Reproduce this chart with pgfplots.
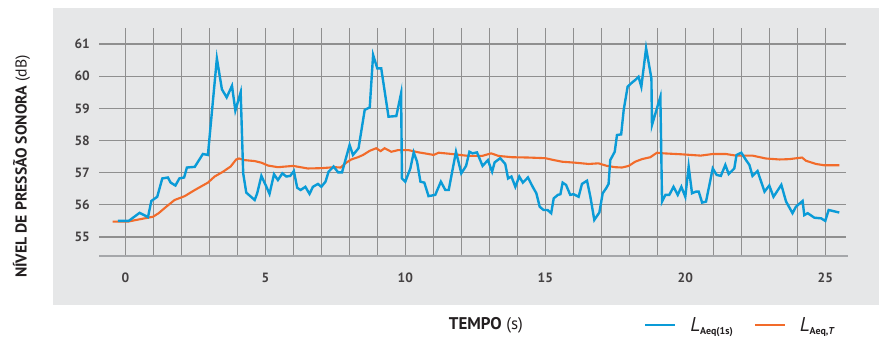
\documentclass[border=0pt]{standalone}
\usepackage{fontspec}
\setmainfont{PT Sans}
\usepackage{pgfplots}
\pgfplotsset{compat=1.18}

\definecolor{panel}{HTML}{E6E7E8}
\definecolor{gridc}{HTML}{8F8F8F}
\definecolor{baseln}{HTML}{A5A7AA}
\definecolor{laeqone}{HTML}{0A9BD7}
\definecolor{laeqT}{HTML}{F26B2A}
\definecolor{txt}{HTML}{231F20}

% L_Aeq(1s): short-interval equivalent level
\pgfplotstableread{
t L
-0.27 55.50
0.12 55.50
0.51 55.75
0.81 55.62
0.93 56.12
1.14 56.25
1.32 56.82
1.52 56.85
1.62 56.69
1.79 56.60
1.93 56.82
2.10 56.85
2.20 57.16
2.48 57.18
2.77 57.58
2.95 57.55
3.27 60.55
3.45 59.59
3.62 59.34
3.81 59.70
3.93 58.93
4.12 59.50
4.21 56.98
4.32 56.38
4.62 56.15
4.71 56.36
4.86 56.90
5.04 56.56
5.15 56.34
5.31 56.95
5.45 56.77
5.61 56.98
5.75 56.88
5.89 56.90
6.02 57.05
6.14 56.53
6.26 56.46
6.43 56.56
6.58 56.34
6.70 56.56
6.88 56.65
7.00 56.56
7.15 56.72
7.26 57.03
7.44 57.19
7.60 57.01
7.74 57.01
7.86 57.39
8.01 57.86
8.13 57.55
8.33 57.76
8.55 58.95
8.73 59.03
8.85 60.66
9.00 60.24
9.14 60.24
9.40 58.74
9.68 58.76
9.85 59.47
9.88 56.82
10.00 56.72
10.18 57.13
10.30 57.63
10.42 57.34
10.54 56.72
10.68 56.69
10.83 56.27
11.07 56.31
11.27 56.72
11.43 56.46
11.55 56.46
11.81 57.65
12.00 56.98
12.17 57.21
12.29 57.65
12.40 57.60
12.56 57.63
12.76 57.21
12.95 57.39
13.10 57.03
13.19 57.32
13.39 57.45
13.57 57.27
13.67 56.82
13.79 56.88
13.93 56.56
14.07 56.88
14.20 56.69
14.38 56.85
14.55 56.56
14.68 56.36
14.80 55.94
14.94 55.84
15.08 55.84
15.21 55.74
15.30 56.20
15.45 56.31
15.54 56.33
15.62 56.69
15.74 56.62
15.89 56.31
16.01 56.33
16.19 56.25
16.31 56.65
16.49 56.75
16.61 56.25
16.75 55.53
16.93 55.76
17.05 56.36
17.17 56.51
17.26 56.65
17.32 57.39
17.48 57.65
17.56 58.17
17.71 58.19
17.80 58.95
17.94 59.67
18.07 59.78
18.21 59.88
18.33 59.98
18.43 59.67
18.60 60.87
18.79 59.93
18.81 58.48
19.11 59.36
19.17 56.10
19.29 56.31
19.43 56.31
19.58 56.56
19.73 56.31
19.86 56.56
20.00 56.25
20.12 57.19
20.24 56.36
20.38 56.41
20.48 56.41
20.60 56.07
20.74 56.10
20.98 57.13
21.12 56.93
21.27 56.90
21.43 57.24
21.55 56.96
21.75 57.13
21.83 57.55
22.00 57.62
22.17 57.39
22.29 57.24
22.40 56.90
22.58 57.05
22.83 56.41
23.00 56.60
23.15 56.25
23.43 56.62
23.60 56.10
23.83 55.74
23.95 55.94
24.19 56.12
24.25 55.68
24.37 55.74
24.61 55.60
24.85 55.58
25.00 55.50
25.12 55.84
25.50 55.76
}\laeqone

% L_Aeq,T: running equivalent level
\pgfplotstableread{
t L
-0.45 55.48
0.10 55.48
0.57 55.56
0.99 55.63
1.19 55.74
1.46 55.94
1.76 56.15
2.12 56.27
2.48 56.46
2.95 56.69
3.19 56.88
3.49 57.03
3.76 57.19
3.96 57.41
4.06 57.44
4.26 57.39
4.62 57.36
4.86 57.31
5.10 57.22
5.45 57.17
5.99 57.21
6.52 57.13
7.00 57.14
7.48 57.17
7.69 57.16
7.89 57.31
8.07 57.41
8.31 57.48
8.49 57.55
8.73 57.68
8.96 57.76
9.12 57.67
9.26 57.76
9.50 57.65
9.74 57.70
10.12 57.70
10.48 57.63
10.83 57.58
11.01 57.55
11.19 57.62
11.67 57.58
12.26 57.52
12.74 57.52
13.07 57.60
13.33 57.52
13.81 57.48
14.40 57.47
15.00 57.45
15.31 57.39
15.60 57.34
16.07 57.31
16.55 57.27
16.90 57.29
17.20 57.21
17.50 57.17
17.74 57.16
17.98 57.21
18.21 57.34
18.45 57.42
18.75 57.48
18.99 57.62
19.23 57.60
19.88 57.57
20.55 57.53
20.98 57.58
21.45 57.58
21.81 57.53
22.40 57.53
22.88 57.44
23.36 57.41
23.71 57.42
24.17 57.47
24.31 57.37
24.67 57.27
24.96 57.23
25.50 57.23
}\laeqT

\begin{document}
\begin{tikzpicture}
\useasboundingbox (0bp,0bp) rectangle (879bp,338bp);
\fill[panel] (53bp,33bp) rectangle (879bp,330bp);
\begin{axis}[
  at={(99bp,81.7bp)}, anchor=south west,
  scale only axis, width=747bp, height=228.4bp,
  xmin=-0.94, xmax=25.74, ymin=54.4, ymax=61.5,
  clip=false,
  axis line style={draw=none},
  major tick length=0pt, minor tick length=0pt,
  xtick={0,5,...,25}, minor xtick={0,...,25},
  ytick={55,...,61},
  xmajorgrids, xminorgrids, ymajorgrids,
  major grid style={gridc, line width=1.1bp},
  minor grid style={gridc, line width=1.1bp},
  /pgf/number format/assume math mode=true,
  tick label style={font=\fontsize{13.5}{15}\selectfont\bfseries, text=txt!85},
  yticklabel style={anchor=east, inner sep=0pt, xshift=-9bp},
  xticklabel style={anchor=north, inner sep=0pt, yshift=-16.5bp},
  xlabel={\textbf{TEMPO} (s)},
  xlabel style={at={(axis description cs:0.518,-0.301)}, anchor=center,
    font=\fontsize{17}{19}\selectfont, text=txt},
  ylabel={\textbf{NÍVEL DE PRESSÃO SONORA} (dB)},
  ylabel style={at={(axis description cs:-0.1037,0.393)}, anchor=center,
    font=\fontsize{15.8}{17}\selectfont, text=txt},
  legend columns=2,
  legend image code/.code={\draw[#1] (0bp,0bp) -- (30bp,0bp);},
  legend style={at={(axis description cs:0.7296,-0.300)}, anchor=west,
    draw=none, fill=none, inner sep=0pt, outer sep=0pt,
    nodes={inner sep=0pt, text=txt},
    /tikz/every odd column/.append style={column sep=14bp},
    /tikz/every even column/.append style={column sep=21bp}},
]
\draw[baseln, line width=2bp] (axis cs:-0.94,54.4) -- (axis cs:25.82,54.4);
\addplot[laeqT, line width=2.1bp, forget plot] table[x=t, y=L] {\laeqT};
\addplot[laeqone, line width=2.4bp] table[x=t, y=L] {\laeqone};
\addlegendentry{{\fontsize{20}{20}\selectfont\itshape L}\raisebox{-3.5bp}{\fontsize{10}{10}\selectfont\bfseries Aeq(1s)}}
\addlegendimage{laeqT, line width=2.1bp}
\addlegendentry{{\fontsize{20}{20}\selectfont\itshape L}\raisebox{-3.5bp}{\fontsize{10}{10}\selectfont\bfseries Aeq,\textit{T}}}
\end{axis}
\end{tikzpicture}
\end{document}
